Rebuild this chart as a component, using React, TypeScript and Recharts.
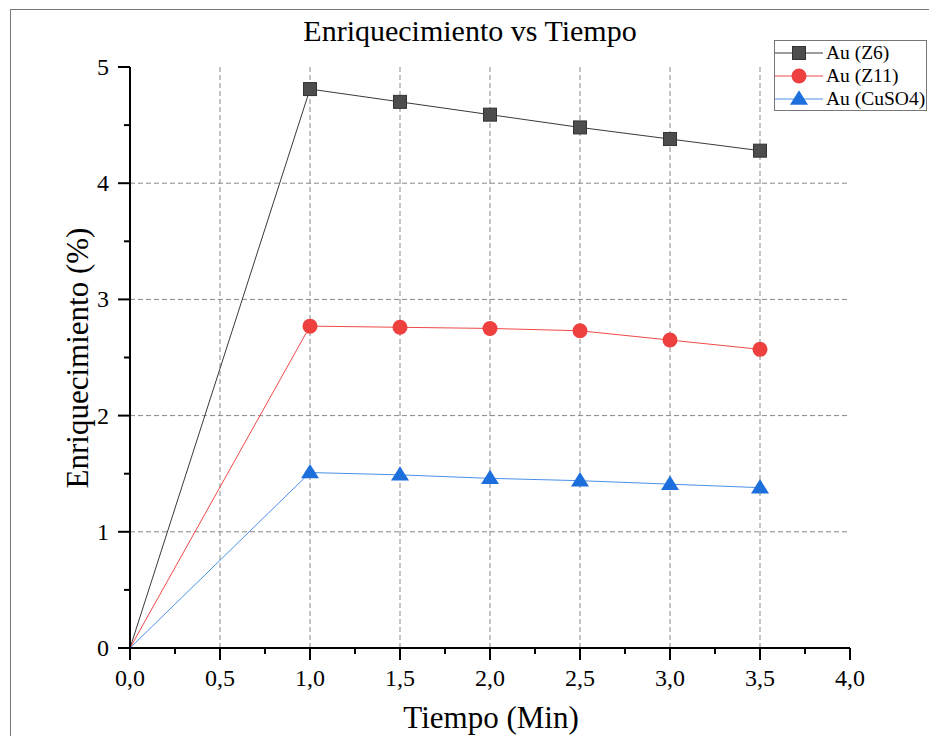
import React from "react";
import { LineChart, Line, XAxis, YAxis, CartesianGrid } from "recharts";

const tiempo = [0, 1.0, 1.5, 2.0, 2.5, 3.0, 3.5];
const auZ6 = [0, 4.81, 4.7, 4.59, 4.48, 4.38, 4.28];
const auZ11 = [0, 2.77, 2.76, 2.75, 2.73, 2.65, 2.57];
const auCuSO4 = [0, 1.51, 1.49, 1.46, 1.44, 1.41, 1.38];

const xTicks = [0, 0.25, 0.5, 0.75, 1, 1.25, 1.5, 1.75, 2, 2.25, 2.5, 2.75, 3, 3.25, 3.5, 3.75, 4];
const yTicks = [0, 0.5, 1, 1.5, 2, 2.5, 3, 3.5, 4, 4.5, 5];
const xGrid = [0.5, 1, 1.5, 2, 2.5, 3, 3.5];
const yGrid = [1, 2, 3, 4];

const series = [
  { key: "z6", name: "Au (Z6)", values: auZ6, line: "#3a3a3a", fill: "#4d4d4d", shape: "square" },
  { key: "z11", name: "Au (Z11)", values: auZ11, line: "#f04a4a", fill: "#ef4040", shape: "circle" },
  { key: "cuso4", name: "Au (CuSO4)", values: auCuSO4, line: "#4a90e8", fill: "#1d6fdc", shape: "triangle" },
];

const data = tiempo.map((t, i) => {
  const row: any = { t };
  series.forEach((s) => (row[s.key] = s.values[i]));
  return row;
});

const font = "'Liberation Serif', 'Times New Roman', serif";

const isMajor = (v: number, step: number) => Math.abs(v / step - Math.round(v / step)) < 1e-6;

const XTick = (props: any) => {
  const { x, y, payload } = props;
  const major = isMajor(payload.value, 0.5);
  return (
    <g>
      <line x1={x} x2={x} y1={y} y2={y + (major ? 12 : 6)} stroke="#000" strokeWidth={2} />
      {major && (
        <text x={x} y={y + 38} textAnchor="middle" fontSize={24} fontFamily={font} fill="#000">
          {payload.value.toFixed(1).replace(".", ",")}
        </text>
      )}
    </g>
  );
};

const YTick = (props: any) => {
  const { x, y, payload } = props;
  const major = isMajor(payload.value, 1);
  return (
    <g>
      <line x1={x} x2={x - (major ? 12 : 6)} y1={y} y2={y} stroke="#000" strokeWidth={2} />
      {major && (
        <text x={x - 21} y={y + 8} textAnchor="end" fontSize={24} fontFamily={font} fill="#000">
          {payload.value}
        </text>
      )}
    </g>
  );
};

const Marker = ({ shape, fill, cx, cy, size }: any) => {
  if (shape === "square")
    return <rect x={cx - size / 2} y={cy - size / 2} width={size} height={size} fill={fill} stroke="#333" strokeWidth={1} />;
  if (shape === "circle") return <circle cx={cx} cy={cy} r={size / 2} fill={fill} />;
  const h = size * 0.9;
  return (
    <polygon
      points={`${cx},${cy - h * 0.6} ${cx - size / 2 - 1},${cy + h * 0.4} ${cx + size / 2 + 1},${cy + h * 0.4}`}
      fill={fill}
    />
  );
};

const markerSize = (shape: string) => (shape === "square" ? 13 : shape === "circle" ? 15 : 16);

const makeDot = (s: any) => (props: any) => {
  const { cx, cy, index } = props;
  if (index === 0) return <g key={`${s.key}-${index}`} />;
  return (
    <g key={`${s.key}-${index}`}>
      <Marker shape={s.shape} fill={s.fill} cx={cx} cy={cy} size={markerSize(s.shape)} />
    </g>
  );
};

function LegendBox() {
  return (
    <div
      style={{
        position: "absolute",
        left: 774,
        top: 40,
        width: 153,
        height: 71,
        border: "1px solid #777",
        background: "#fff",
        boxSizing: "border-box",
        fontFamily: font,
        fontSize: 19.5,
      }}
    >
      {series.map((s, i) => (
        <div key={s.key} style={{ position: "absolute", left: 0, top: 1 + i * 23, height: 22, display: "flex", alignItems: "center" }}>
          <svg width={48} height={22}>
            <line x1={0} x2={48} y1={11} y2={11} stroke={s.line} strokeWidth={1} />
            <Marker shape={s.shape} fill={s.fill} cx={24} cy={11} size={markerSize(s.shape)} />
          </svg>
          <span style={{ marginLeft: 3, whiteSpace: "nowrap" }}>{s.name}</span>
        </div>
      ))}
    </div>
  );
}

export default function App() {
  return (
    <div style={{ position: "absolute", left: 0, top: 0, width: 929, height: 736, background: "#fff", overflow: "hidden" }}>
      <div
        style={{
          position: "absolute",
          left: 10,
          top: 9,
          width: 919,
          height: 727,
          borderTop: "1px solid #777",
          borderLeft: "1px solid #777",
          boxSizing: "border-box",
        }}
      />
      <LineChart width={929} height={736} data={data} margin={{ top: 67, right: 79, left: 70, bottom: 48 }}>
        <CartesianGrid
          stroke="#888"
          strokeDasharray="5 3"
          verticalValues={xGrid}
          horizontalValues={yGrid}
        />
        <XAxis
          dataKey="t"
          type="number"
          domain={[0, 4]}
          ticks={xTicks}
          interval={0}
          height={40}
          tickSize={0}
          tickMargin={0}
          tickLine={false}
          axisLine={{ stroke: "#000", strokeWidth: 2 }}
          tick={<XTick />}
        />
        <YAxis
          type="number"
          domain={[0, 5]}
          ticks={yTicks}
          interval={0}
          width={60}
          tickSize={0}
          tickMargin={0}
          tickLine={false}
          axisLine={{ stroke: "#000", strokeWidth: 2 }}
          tick={<YTick />}
        />
        {series.map((s) => (
          <Line
            key={s.key}
            dataKey={s.key}
            name={s.name}
            type="linear"
            stroke={s.line}
            strokeWidth={1}
            dot={makeDot(s)}
            activeDot={false}
            isAnimationActive={false}
          />
        ))}
      </LineChart>
      <div
        style={{
          position: "absolute",
          left: 0,
          width: 940,
          top: 12,
          textAlign: "center",
          fontFamily: font,
          fontSize: 30,
          lineHeight: "38px",
        }}
      >
        Enriquecimiento vs Tiempo
      </div>
      <div
        style={{
          position: "absolute",
          left: 0,
          width: 982,
          top: 699,
          textAlign: "center",
          fontFamily: font,
          fontSize: 31,
          lineHeight: "38px",
        }}
      >
        Tiempo (Min)
      </div>
      <div
        style={{
          position: "absolute",
          left: 78,
          top: 358,
          transform: "translate(-50%, -50%) rotate(-90deg)",
          fontFamily: font,
          fontSize: 31,
          lineHeight: "38px",
          whiteSpace: "nowrap",
        }}
      >
        Enriquecimiento (%)
      </div>
      <LegendBox />
    </div>
  );
}
